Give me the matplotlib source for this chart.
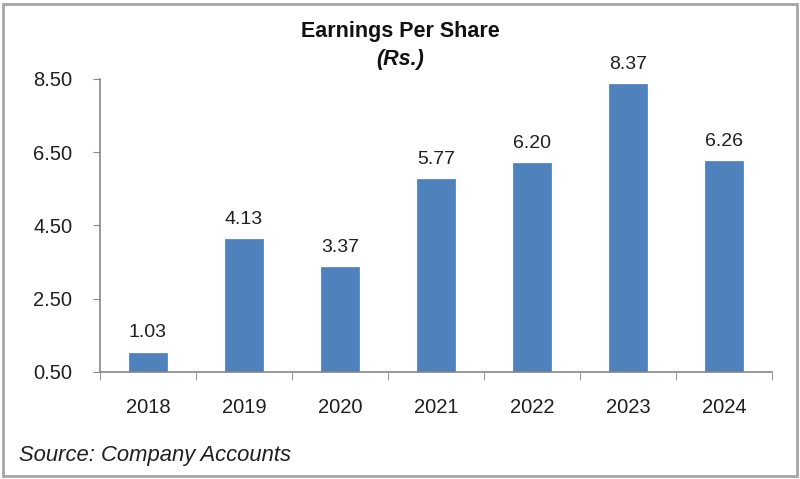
import matplotlib.pyplot as plt
from matplotlib.patches import Rectangle

# data
years = ["2018", "2019", "2020", "2021", "2022", "2023", "2024"]
eps = [1.03, 4.13, 3.37, 5.77, 6.20, 8.37, 6.26]
y_ticks = [0.50, 2.50, 4.50, 6.50, 8.50]

plt.rcParams['font.family'] = ['Liberation Sans', 'DejaVu Sans']

bar_color = "#4F81BD"
axis_color = "#868686"
text_color = "#1f1f1f"
base = 0.50

fig = plt.figure(figsize=(8, 4.79), dpi=100)
ax = fig.add_axes([0.125, 0.2234, 0.84, 0.6117])

x = list(range(len(years)))
heights = [v - base for v in eps]
ax.bar(x, heights, bottom=base, width=0.39, color=bar_color, edgecolor="#5a8ac6", linewidth=0.6)

for xi, v in zip(x, eps):
    ax.annotate(f"{v:.2f}", (xi, v), xytext=(0, 8), textcoords="offset points",
                ha="center", va="bottom", fontsize=14, color=text_color)

ax.set_xlim(-0.5, len(years) - 0.5)
ax.set_ylim(base, 8.50)
ax.set_yticks(y_ticks)
ax.set_yticklabels([f"{t:.2f}" for t in y_ticks], fontsize=14.5, color=text_color)

# category labels centred, ticks on the boundaries
ax.set_xticks(x)
ax.set_xticklabels(years, fontsize=14.5, color=text_color)
ax.tick_params(axis="x", length=0, pad=19)
ax.set_xticks([i - 0.5 for i in range(len(years) + 1)], minor=True)
ax.tick_params(axis="x", which="minor", length=6, color=axis_color, direction="out")
ax.tick_params(axis="y", length=5, color=axis_color, pad=15)

for side in ["top", "right"]:
    ax.spines[side].set_visible(False)
for side in ["left", "bottom"]:
    ax.spines[side].set_color(axis_color)
    ax.spines[side].set_linewidth(1.2)

fig.text(0.5, 0.935, "Earnings Per Share", ha="center", va="center",
         fontsize=15.5, fontweight="bold", color="#111111")
fig.text(0.5, 0.876, "(Rs.)", ha="center", va="center",
         fontsize=15.5, fontweight="bold", fontstyle="italic", color="#111111")
fig.text(0.024, 0.05, "Source: Company Accounts", ha="left", va="center",
         fontsize=15.8, fontstyle="italic", color=text_color)

# outer frame
fig.patches.append(Rectangle((0.004, 0.006), 0.992, 0.986, transform=fig.transFigure,
                             fill=False, edgecolor="#a6a6a6", linewidth=2))

fig.savefig("out.png", dpi=100)
